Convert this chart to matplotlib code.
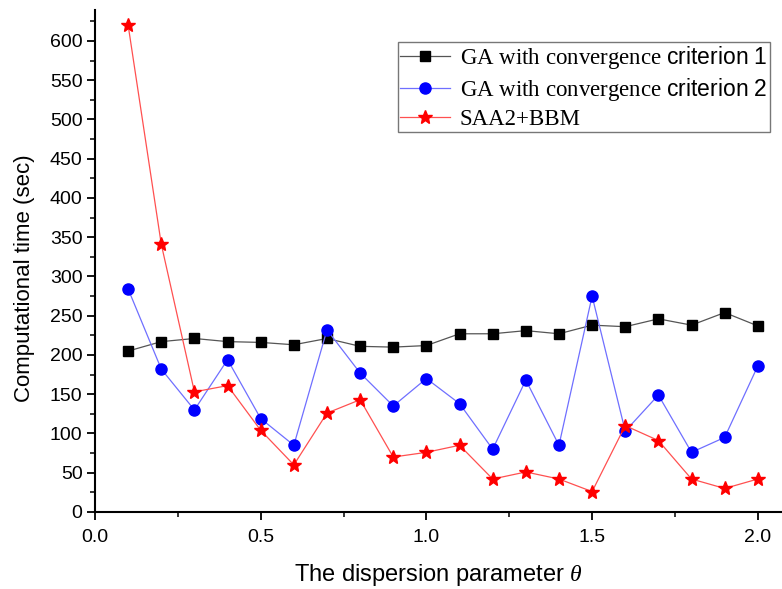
import matplotlib
matplotlib.use("Agg")
import matplotlib.pyplot as plt
from matplotlib.ticker import MultipleLocator

plt.rcParams['font.family'] = ['Liberation Sans', 'DejaVu Sans']
plt.rcParams['mathtext.fontset'] = 'custom'
plt.rcParams['mathtext.sf'] = 'Liberation Sans'
plt.rcParams['mathtext.rm'] = 'Liberation Serif'
plt.rcParams['mathtext.it'] = 'Liberation Serif:italic'

theta = [0.1, 0.2, 0.3, 0.4, 0.5, 0.6, 0.7, 0.8, 0.9, 1.0,
         1.1, 1.2, 1.3, 1.4, 1.5, 1.6, 1.7, 1.8, 1.9, 2.0]
ga_crit1 = [205, 217, 221, 217, 216, 213, 221, 211, 210, 212,
            227, 227, 231, 227, 238, 236, 246, 238, 254, 237]
ga_crit2 = [284, 182, 130, 194, 119, 85, 232, 177, 135, 170,
            138, 80, 168, 85, 275, 103, 149, 76, 95, 186]
saa2_bbm = [620, 341, 153, 161, 104, 60, 126, 143, 70, 76,
            85, 42, 51, 42, 26, 110, 91, 42, 30, 42]

labels = [r"GA with convergence $\mathsf{criterion\ 1}$ ",
          r"GA with convergence $\mathsf{criterion\ 2}$ ",
          "SAA2+BBM"]

fig = plt.figure(figsize=(7.82, 5.89), dpi=100)
ax = fig.add_axes([95/782, 77/589, 687/782, 502.5/589])

ax.plot(theta, ga_crit1, color='#555555', lw=0.9, marker='s', ms=7,
        mfc='black', mec='black', label=labels[0])
ax.plot(theta, ga_crit2, color='#6f6fff', lw=0.9, marker='o', ms=8,
        mfc='blue', mec='blue', label=labels[1])
ax.plot(theta, saa2_bbm, color='#ff5050', lw=0.9, marker='*', ms=10.5,
        mfc='red', mec='red', label=labels[2])

ax.set_xlim(0, 2.073)
ax.set_ylim(0, 640)
ax.xaxis.set_major_locator(MultipleLocator(0.5))
ax.xaxis.set_minor_locator(MultipleLocator(0.25))
ax.yaxis.set_major_locator(MultipleLocator(50))
ax.yaxis.set_minor_locator(MultipleLocator(25))
ax.xaxis.set_major_formatter(matplotlib.ticker.FormatStrFormatter('%.1f'))

for s in ['top', 'right']:
    ax.spines[s].set_visible(False)
for s in ['left', 'bottom']:
    ax.spines[s].set_linewidth(1.5)

ax.tick_params(which='major', direction='out', length=6, width=1.3, labelsize=14)
ax.tick_params(axis='x', which='major', pad=6)
ax.tick_params(axis='y', which='major', pad=3)
ax.tick_params(which='minor', direction='out', length=3.5, width=1.1)

ax.set_xlabel(r"The dispersion parameter $\theta$", fontsize=17, labelpad=12)
ax.set_ylabel("Computational time (sec)", fontsize=16)
ax.yaxis.set_label_coords(-0.087, 0.466)

leg = ax.legend(loc='upper right', bbox_to_anchor=(0.9825, 0.935),
                prop={'family': 'Liberation Serif', 'size': 16.5},
                frameon=True, fancybox=False, edgecolor='#555555',
                handlelength=2.2, handletextpad=0.4, labelspacing=0.22,
                borderpad=0.1, borderaxespad=0.0)
leg.get_frame().set_linewidth(1.0)

fig.savefig("out.png", dpi=100)
